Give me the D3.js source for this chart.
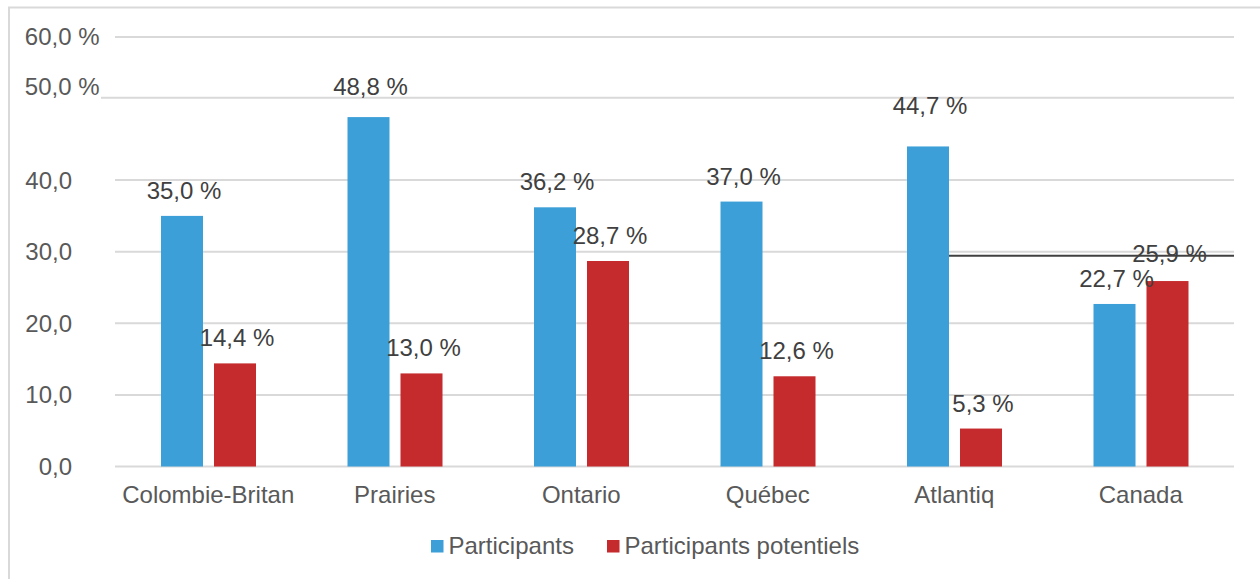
<!DOCTYPE html>
<html><head><meta charset="utf-8">
<script src="https://cdn.jsdelivr.net/npm/d3@7"></script>
<style>
html,body{margin:0;padding:0;background:#fff;}
svg{display:block;font-family:"Liberation Sans",Arial,sans-serif;}
</style></head>
<body>
<svg id="chart" width="1260" height="579"></svg>
<script>
// ---- data ----
const categories = ["Colombie-Britan", "Prairies", "Ontario", "Québec", "Atlantiq", "Canada"];
const participants = [35.0, 48.8, 36.2, 37.0, 44.7, 22.7];
const potentiels = [14.4, 13.0, 28.7, 12.6, 5.3, 25.9];
const seriesNames = ["Participants", "Participants potentiels"];
const gridValues = [0, 10, 20, 30, 40, 60];
const tickValues = [0, 10, 20, 30, 40, 51.5, 60];
const tickLabels = ["0,0", "10,0", "20,0", "30,0", "40,0", "50,0 %", "60,0 %"];
const refLineValue = 29.45;

// ---- layout / style ----
const colors = ["#3d9fd7", "#c52a2c"];
const fs = 24;
const svg = d3.select("#chart");
const plotL = 115, plotR = 1234, y0px = 466.5, y60px = 36.9;

svg.append("rect").attr("x", 9).attr("y", 7.5).attr("width", 1300).attr("height", 700)
  .attr("fill", "#fff").attr("stroke", "#d9d9d9").attr("stroke-width", 2);

const x = d3.scaleBand().domain(categories).range([plotL, plotR]).paddingInner(0).paddingOuter(0);
const x1 = d3.scaleBand().domain(seriesNames).range([46, 141]).paddingInner(11 / 53).paddingOuter(0);
const y = d3.scaleLinear().domain([0, 60]).range([y0px, y60px]);

// gridlines
svg.append("g").selectAll("line").data(gridValues).join("line")
  .attr("x1", plotL).attr("x2", plotR)
  .attr("y1", d => y(d)).attr("y2", d => y(d))
  .attr("stroke", "#d9d9d9").attr("stroke-width", 2);
// the "50,0 %" line
svg.append("line").attr("x1", 101).attr("x2", plotR)
  .attr("y1", y(51.5)).attr("y2", y(51.5))
  .attr("stroke", "#d9d9d9").attr("stroke-width", 2);

// y tick labels
const tickG = svg.append("g");
tickValues.forEach((v, i) => {
  const lab = tickLabels[i];
  const withPct = lab.indexOf("%") >= 0;
  tickG.append("text")
    .attr("x", withPct ? 99.5 : 72)
    .attr("y", y(v) + (v === 51.5 ? -11 : 0))
    .attr("dy", "0.35em")
    .attr("text-anchor", "end")
    .attr("font-size", fs).attr("fill", "#595959")
    .text(lab);
});

// bars
const rows = categories.map((c, i) => ({c, vals: [participants[i], potentiels[i]]}));
const groups = svg.append("g").selectAll("g").data(rows).join("g")
  .attr("transform", d => `translate(${x(d.c)},0)`);
groups.selectAll("rect").data(d => d.vals.map((v, j) => ({v, s: seriesNames[j], j, c: d.c}))).join("rect")
  .attr("x", d => x1(d.s)).attr("width", x1.bandwidth())
  .attr("y", d => y(d.v)).attr("height", d => y(0) - y(d.v))
  .attr("fill", d => colors[d.j]);

// reference black line
svg.append("line")
  .attr("x1", x("Atlantiq") + x1("Participants") + x1.bandwidth()).attr("x2", plotR)
  .attr("y1", y(refLineValue)).attr("y2", y(refLineValue))
  .attr("stroke", "#404040").attr("stroke-width", 2);

// data labels
const lift = {"Prairies|0": 5, "Atlantiq|0": 15, "Canada|1": 2};
groups.selectAll("text").data(d => d.vals.map((v, j) => ({v, s: seriesNames[j], j, c: d.c}))).join("text")
  .attr("x", d => x1(d.s) + x1.bandwidth() / 2 + 2)
  .attr("y", d => y(d.v) - 17 - (lift[d.c + "|" + d.j] || 0))
  .attr("text-anchor", "middle")
  .attr("font-size", fs).attr("fill", "#404040")
  .text(d => d3.format(".1f")(d.v).replace(".", ",") + " %");

// category labels
svg.append("g").selectAll("text").data(categories).join("text")
  .attr("x", d => x(d) + x.bandwidth() / 2)
  .attr("y", 503)
  .attr("text-anchor", "middle")
  .attr("font-size", fs).attr("fill", "#595959")
  .text(d => d);

// legend
const legX = [431, 607];
const leg = svg.append("g").selectAll("g").data(seriesNames).join("g")
  .attr("transform", (d, i) => `translate(${legX[i]},546)`);
leg.append("rect").attr("x", 0).attr("y", -6).attr("width", 12.5).attr("height", 12.5)
  .attr("fill", (d, i) => colors[i]);
leg.append("text").attr("x", 17.5).attr("y", 0).attr("dy", "0.35em")
  .attr("font-size", fs).attr("fill", "#595959").text(d => d);
</script>
</body></html>
